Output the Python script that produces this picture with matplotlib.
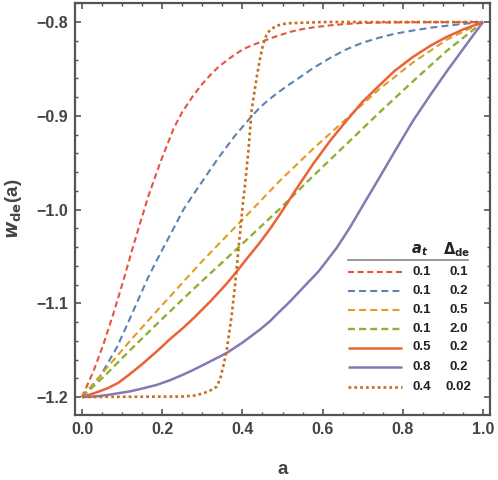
import matplotlib
matplotlib.use("Agg")
import matplotlib.pyplot as plt
from matplotlib.ticker import MultipleLocator, FormatStrFormatter
from matplotlib.lines import Line2D

plt.rcParams['font.family'] = ['Liberation Sans', 'DejaVu Sans']
plt.rcParams['lines.scale_dashes'] = False

# ---- data ----
a_red_d = [0.0, 0.029, 0.054, 0.079, 0.103, 0.125, 0.141, 0.166, 0.195, 0.229, 0.25, 0.278, 0.30,
           0.319, 0.34, 0.361, 0.38, 0.402, 0.42, 0.444, 0.46, 0.486, 0.519, 0.55, 0.58, 0.62,
           0.66, 0.70, 0.75, 0.85, 1.0]
w_red_d = [-1.2, -1.172, -1.143, -1.110, -1.076, -1.043, -1.020, -0.985, -0.950, -0.913, -0.896, -0.878,
           -0.866, -0.857, -0.848, -0.841, -0.835, -0.829, -0.8255, -0.8215, -0.819, -0.815, -0.8105,
           -0.8075, -0.8055, -0.8035, -0.802, -0.801, -0.8005, -0.8002, -0.8]

a_blue = [0.0, 0.045, 0.087, 0.124, 0.162, 0.183, 0.200, 0.220, 0.253, 0.273, 0.30, 0.319, 0.34,
          0.361, 0.38, 0.402, 0.42, 0.444, 0.46, 0.486, 0.519, 0.55, 0.577, 0.62, 0.660, 0.70,
          0.743, 0.78, 0.826, 0.87, 0.909, 0.95, 1.0]
w_blue = [-1.2, -1.178, -1.147, -1.112, -1.075, -1.057, -1.043, -1.027, -1.000, -0.987, -0.970, -0.958,
          -0.945, -0.933, -0.922, -0.911, -0.902, -0.891, -0.885, -0.876, -0.866, -0.857, -0.849,
          -0.838, -0.829, -0.822, -0.8165, -0.8125, -0.809, -0.806, -0.804, -0.802, -0.8]

a_orange = [0.0, 0.062, 0.120, 0.187, 0.253, 0.30, 0.361, 0.411, 0.447, 0.494, 0.577, 0.660,
            0.743, 0.826, 0.909, 1.0]
w_orange = [-1.2, -1.169, -1.140, -1.108, -1.077, -1.055, -1.028, -1.006, -0.990, -0.969, -0.935, -0.903,
            -0.871, -0.843, -0.819, -0.8]

a_green = [0.0, 0.062, 0.120, 0.187, 0.253, 0.30, 0.361, 0.444, 0.494, 0.577, 0.660, 0.743,
           0.826, 0.909, 1.0]
w_green = [-1.2, -1.175, -1.150, -1.122, -1.095, -1.076, -1.052, -1.019, -0.999, -0.964, -0.930, -0.896,
           -0.863, -0.831, -0.8]

a_red_s = [0.0, 0.03, 0.062, 0.09, 0.115, 0.15, 0.19, 0.22, 0.253, 0.278, 0.32, 0.361, 0.386, 0.41,
           0.444, 0.47, 0.494, 0.53, 0.577, 0.62, 0.660, 0.70, 0.743, 0.78, 0.826, 0.87, 0.909,
           0.95, 1.0]
w_red_s = [-1.2, -1.196, -1.191, -1.185, -1.177, -1.165, -1.150, -1.138, -1.126, -1.116, -1.098, -1.079,
           -1.066, -1.053, -1.035, -1.020, -1.005, -0.981, -0.951, -0.926, -0.905, -0.885, -0.867,
           -0.852, -0.837, -0.825, -0.816, -0.808, -0.8]

a_purple = [0.0, 0.03, 0.062, 0.09, 0.120, 0.15, 0.187, 0.22, 0.253, 0.278, 0.32, 0.361, 0.40, 0.444,
            0.469, 0.49, 0.519, 0.552, 0.59, 0.635, 0.667, 0.70, 0.743, 0.78, 0.826, 0.87, 0.909,
            0.95, 1.0]
w_purple = [-1.2, -1.1995, -1.198, -1.196, -1.194, -1.191, -1.187, -1.182, -1.176, -1.171, -1.162, -1.153,
            -1.142, -1.128, -1.119, -1.110, -1.098, -1.083, -1.066, -1.041, -1.020, -0.996, -0.965,
            -0.938, -0.905, -0.877, -0.853, -0.829, -0.8]

a_dot = [0.0, 0.25, 0.28, 0.303, 0.32, 0.336, 0.345, 0.352, 0.361, 0.373, 0.382, 0.390, 0.398, 0.402,
         0.406, 0.415, 0.423, 0.436, 0.444, 0.452, 0.46, 0.469, 0.485, 0.510, 0.6, 1.0]
w_dot = [-1.2, -1.1995, -1.1985, -1.196, -1.193, -1.189, -1.180, -1.168, -1.150, -1.114, -1.079, -1.043,
         -1.008, -0.990, -0.976, -0.937, -0.894, -0.858, -0.839, -0.823, -0.814, -0.8085, -0.804,
         -0.8014, -0.8, -0.8]

a_t_labels = ['0.1', '0.1', '0.1', '0.1', '0.5', '0.8', '0.4']
delta_labels = ['0.1', '0.2', '0.5', '2.0', '0.2', '0.2', '0.02']

x_ticks = [0.0, 0.2, 0.4, 0.6, 0.8, 1.0]
y_ticks = [-1.2, -1.1, -1.0, -0.9, -0.8]
y_tick_labels = ['\u22121.2', '\u22121.1', '\u22121.0', '\u22120.9', '\u22120.8']

series = [
    (a_red_d, w_red_d, '#E8533F', (0, (4.3, 2.6)), 1.5),
    (a_blue, w_blue, '#5E81B5', (0, (5.0, 3.0)), 1.5),
    (a_orange, w_orange, '#E19C24', (0, (5.0, 3.0)), 1.5),
    (a_green, w_green, '#8FB032', (0, (5.0, 3.0)), 1.7),
    (a_red_s, w_red_s, '#EB6235', '-', 1.8),
    (a_purple, w_purple, '#8778B3', '-', 1.8),
    (a_dot, w_dot, '#C56E1A', (0, (2.0, 2.2)), 1.9),
]

FR = '#555555'
TX = '#444444'

fig = plt.figure(figsize=(4.98, 4.80), dpi=100)
L, R, T, B = 75, 490, 3, 415
ax = fig.add_axes([L / 498, (480 - B) / 480, (R - L) / 498, (B - T) / 480])

for xs, ys, c, ls, lw in series:
    ax.plot(xs, ys, color=c, linestyle=ls, linewidth=lw, solid_capstyle='butt',
            dash_capstyle='butt', solid_joinstyle='round')

ax.set_xlim(-0.0175, 1.0175)
ax.set_ylim(-1.2192, -0.7797)

ax.set_xticks(x_ticks)
ax.set_yticks(y_ticks)
ax.xaxis.set_major_formatter(FormatStrFormatter('%.1f'))
ax.set_yticklabels(y_tick_labels)
ax.xaxis.set_minor_locator(MultipleLocator(0.05))
ax.yaxis.set_minor_locator(MultipleLocator(0.02))
ax.tick_params(which='both', direction='in', top=True, right=True, color=FR,
               labelcolor=TX, labelsize=11.5, pad=5)
ax.tick_params(which='major', length=4.5, width=1.2)
ax.tick_params(which='minor', length=2.5, width=1.0)
for lab in ax.get_xticklabels() + ax.get_yticklabels():
    lab.set_fontweight('bold')
for sp in ax.spines.values():
    sp.set_color(FR)
    sp.set_linewidth(1.6)

ax.set_xlabel('a', fontsize=13.5, fontweight='bold', color=TX, labelpad=17)
ax.set_ylabel(r'$\mathbfit{w}_{\mathbf{de}}$' + '(a)', fontsize=13.5, fontweight='bold', color=TX,
              labelpad=9)

# ---- legend table ----
def fx(px):
    return (px - L) / (R - L)

def fy(py):
    return (B - py) / (B - T)

ax.text(fx(420), fy(250), r'$\mathbfit{a}_{\mathbfit{t}}$', transform=ax.transAxes,
        ha='center', va='center', fontsize=10.5, color='#222222')
ax.text(fx(457), fy(250), r'$\mathbf{\Delta_{de}}$', transform=ax.transAxes,
        ha='center', va='center', fontsize=10.5, color='#222222')
ax.add_line(Line2D([fx(348), fx(468)], [fy(259.5), fy(259.5)], transform=ax.transAxes,
                   color='#888888', linewidth=1.2))
row_y = [271.7, 291.2, 310.0, 328.6, 347.5, 366.7, 386.5]
for (xs, ys, c, ls, lw), yy, t1, t2 in zip(series, row_y, a_t_labels, delta_labels):
    ax.add_line(Line2D([fx(348), fx(402)], [fy(yy), fy(yy)], transform=ax.transAxes,
                       color=c, linestyle=ls, linewidth=lw, dash_capstyle='butt',
                       solid_capstyle='butt'))
    ax.text(fx(421.5), fy(yy), t1, transform=ax.transAxes, ha='center', va='center',
            fontsize=9.5, fontweight='bold', color='#222222')
    ax.text(fx(458.5), fy(yy), t2, transform=ax.transAxes, ha='center', va='center',
            fontsize=9.5, fontweight='bold', color='#222222')

fig.savefig('out.png', dpi=100)
